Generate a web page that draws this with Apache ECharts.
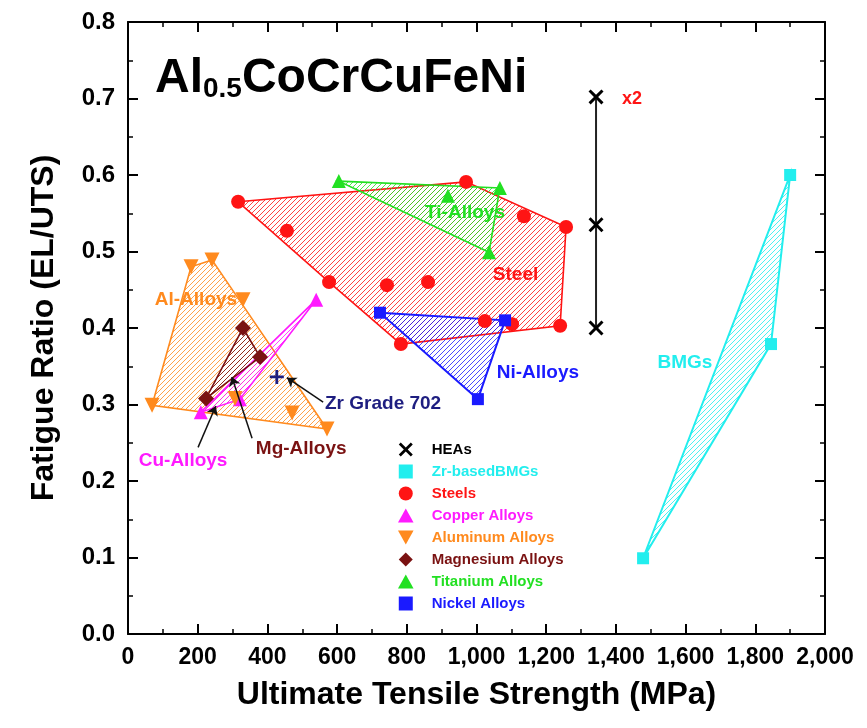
<!DOCTYPE html>
<html>
<head>
<meta charset="utf-8">
<script src="https://cdn.jsdelivr.net/npm/echarts@6/dist/echarts.min.js"></script>
<style>
  html, body { margin: 0; padding: 0; background: #ffffff; }
  #chart { width: 867px; height: 728px; }
</style>
</head>
<body>
<div id="chart"></div>
<script>
// Each point: [ultimate tensile strength (MPa), fatigue ratio (EL/UTS)]
const heaPoints = [[1343, 0.702], [1343, 0.535], [1343, 0.400]];
const bmgPoints = [[1478, 0.099], [1845, 0.379], [1900, 0.600]];
const steelPoints = [
  [316, 0.565], [970, 0.591], [1257, 0.532], [1240, 0.403], [783, 0.379], [577, 0.460],
  [456, 0.527], [743, 0.456], [861, 0.460], [1024, 0.409], [1102, 0.405], [1136, 0.546]
];
const copperPoints = [[209, 0.290], [540, 0.437], [321, 0.307]];
const aluminumPoints = [
  [69, 0.299], [181, 0.480], [241, 0.489], [571, 0.268], [330, 0.437], [307, 0.308], [471, 0.289]
];
const magnesiumPoints = [[330, 0.400], [379, 0.362], [224, 0.308]];
const titaniumPoints = [[605, 0.592], [1067, 0.583], [1036, 0.499], [918, 0.573]];
const nickelPoints = [[723, 0.420], [1082, 0.410], [1004, 0.307]];
const zr702Point = [[427, 0.336]];

// Outline vertices (indices into the arrays above) for each material envelope
const bmgHull = [0, 1, 2];
const steelHull = [0, 1, 2, 3, 4, 5];
const copperHull = [0, 1, 2];
const aluminumHull = [0, 1, 2, 3];
const magnesiumHull = [0, 1, 2];
const titaniumHull = [0, 1, 2];
const nickelHull = [0, 1, 2];

// Axis ticks
const xTicks = { min: 0, max: 2000, step: 200 };
const yTicks = { min: 0, max: 0.8, step: 0.1 };

// Region annotations
const regionNames = ['Al-Alloys', 'Ti-Alloys', 'Steel', 'Ni-Alloys', 'BMGs', 'Cu-Alloys', 'Mg-Alloys', 'Zr Grade 702', 'x2'];
const regionNameAt = [
  [195, 0.437], [967, 0.550], [1112, 0.469], [1176, 0.342], [1598, 0.354],
  [158, 0.227], [497, 0.242], [732, 0.301], [1446, 0.699]
];
// Pointer arrows: [from, to]
const pointerArrows = [
  [[560, 0.303], [456, 0.335]],
  [[356, 0.256], [298, 0.336]],
  [[201, 0.244], [252, 0.298]]
];

const FONT = '"Liberation Sans", Arial, Helvetica, sans-serif';
const C = {
  hea: '#000000', bmg: '#22eeee', steel: '#ff1414', copper: '#ff1aff',
  aluminum: '#ff8a1e', magnesium: '#7a1212', titanium: '#22e022', nickel: '#1a1aff', zr: '#1e1e80'
};
const regionColors = [C.aluminum, C.titanium, C.steel, C.nickel, C.bmg, C.copper, C.magnesium, C.zr, C.steel];

// Diagonal hatch tile
function hatchTile(color) {
  const s = 5;
  const cv = document.createElement('canvas');
  cv.width = s; cv.height = s;
  const g = cv.getContext('2d');
  g.strokeStyle = color;
  g.globalAlpha = 0.8;
  g.lineWidth = 1;
  g.beginPath();
  g.moveTo(0, s); g.lineTo(s, 0);
  g.moveTo(-1, 1); g.lineTo(1, -1);
  g.moveTo(s - 1, s + 1); g.lineTo(s + 1, s - 1);
  g.stroke();
  return cv;
}

function envelope(pts, hull, color, width) {
  const tile = hatchTile(color);
  return {
    type: 'custom',
    silent: true,
    z: 1,
    data: [0],
    renderItem: function (params, api) {
      const points = hull.map(function (i) { return api.coord(pts[i]); });
      return {
        type: 'polygon',
        shape: { points: points },
        style: { fill: { image: tile, repeat: 'repeat' }, stroke: color, lineWidth: width }
      };
    }
  };
}

// Marker shapes as paths so legend icons keep their proportions
const crossPath = 'path://M0,1.4L1.4,0L5,3.6L8.6,0L10,1.4L6.4,5L10,8.6L8.6,10L5,6.4L1.4,10L0,8.6L3.6,5Z';
const plusPath = 'path://M4,0L6,0L6,4L10,4L10,6L6,6L6,10L4,10L4,6L0,6L0,4L4,4Z';
const downTriPath = 'path://M0,0L10,0L5,9Z';
const upTriPath = 'path://M5,0L10,9L0,9Z';
const squarePath = 'path://M0,0L10,0L10,10L0,10Z';
const diamondPath = 'path://M5,0L10,5L5,10L0,5Z';
const circlePath = 'path://M5,0A5,5,0,1,1,5,10A5,5,0,1,1,5,0Z';

function markers(name, data, symbol, size, color) {
  return {
    type: 'scatter', name: name, data: data, symbol: symbol, symbolSize: size, z: 5,
    itemStyle: { color: color, opacity: 1 }
  };
}

const chart = echarts.init(document.getElementById('chart'));

const axisCommon = {
  type: 'value',
  axisLine: { show: true, onZero: false, lineStyle: { color: '#000', width: 2 } },
  axisTick: { show: true, inside: true, length: 10, lineStyle: { color: '#000', width: 2 } },
  minorTick: { show: true, splitNumber: 2, length: 5, lineStyle: { color: '#000', width: 1.5 } },
  splitLine: { show: false }
};

chart.setOption({
  animation: false,
  backgroundColor: '#ffffff',
  textStyle: { fontFamily: FONT },
  title: {
    text: '{m|Al}{s|0.5}{m|CoCrCuFeNi}',
    left: 150,
    top: 50,
    textStyle: {
      rich: {
        m: { fontSize: 48, fontWeight: 'bold', color: '#000', fontFamily: FONT, lineHeight: 48 },
        s: { fontSize: 28, fontWeight: 'bold', color: '#000', fontFamily: FONT, lineHeight: 28, verticalAlign: 'bottom' }
      }
    }
  },
  grid: { left: 128, right: 42, top: 22, bottom: 94, containLabel: false, outerBoundsMode: 'none' },
  legend: {
    orient: 'vertical',
    left: 393,
    top: 437,
    itemWidth: 42,
    itemHeight: 14,
    itemGap: 7,
    symbolKeepAspect: true,
    textStyle: { fontSize: 15, fontWeight: 'bold', fontFamily: FONT },
    selectedMode: false,
    data: [
      { name: 'HEAs', icon: crossPath, textStyle: { color: '#000' } },
      { name: 'Zr-basedBMGs', icon: squarePath, textStyle: { color: C.bmg } },
      { name: 'Steels', icon: circlePath, textStyle: { color: C.steel } },
      { name: 'Copper Alloys', icon: upTriPath, textStyle: { color: C.copper } },
      { name: 'Aluminum Alloys', icon: downTriPath, textStyle: { color: C.aluminum } },
      { name: 'Magnesium Alloys', icon: diamondPath, textStyle: { color: C.magnesium } },
      { name: 'Titanium Alloys', icon: upTriPath, textStyle: { color: C.titanium } },
      { name: 'Nickel Alloys', icon: squarePath, textStyle: { color: C.nickel } }
    ]
  },
  xAxis: [
    Object.assign({}, axisCommon, {
      min: xTicks.min, max: xTicks.max, interval: xTicks.step, position: 'bottom',
      axisLabel: {
        formatter: function (v) { return v.toLocaleString('en-US'); },
        fontSize: 23, fontWeight: 'bold', color: '#000', margin: 12, fontFamily: FONT
      },
      name: 'Ultimate Tensile Strength (MPa)',
      nameLocation: 'middle',
      nameGap: 45,
      nameTextStyle: { fontSize: 32, fontWeight: 'bold', color: '#000', fontFamily: FONT }
    }),
    Object.assign({}, axisCommon, {
      min: xTicks.min, max: xTicks.max, interval: xTicks.step, position: 'top',
      axisLabel: { show: false }
    })
  ],
  yAxis: [
    Object.assign({}, axisCommon, {
      min: yTicks.min, max: yTicks.max, interval: yTicks.step, position: 'left',
      axisLabel: {
        formatter: function (v) { return v.toFixed(1); },
        fontSize: 24, fontWeight: 'bold', color: '#000', margin: 13, fontFamily: FONT
      },
      name: 'Fatigue Ratio (EL/UTS)',
      nameLocation: 'middle',
      nameGap: 68,
      nameTextStyle: { fontSize: 32, fontWeight: 'bold', color: '#000', fontFamily: FONT }
    }),
    Object.assign({}, axisCommon, {
      min: yTicks.min, max: yTicks.max, interval: yTicks.step, position: 'right',
      axisLabel: { show: false }
    })
  ],
  series: [
    envelope(steelPoints, steelHull, C.steel, 1.6),
    envelope(titaniumPoints, titaniumHull, C.titanium, 1.6),
    envelope(nickelPoints, nickelHull, C.nickel, 2),
    envelope(bmgPoints, bmgHull, C.bmg, 2),
    envelope(aluminumPoints, aluminumHull, C.aluminum, 1.6),
    envelope(copperPoints, copperHull, C.copper, 1.6),
    envelope(magnesiumPoints, magnesiumHull, C.magnesium, 1.6),
    {
      type: 'line', data: heaPoints, showSymbol: false, silent: true, z: 2,
      lineStyle: { color: '#222', width: 2 }
    },
    {
      type: 'lines', coordinateSystem: 'cartesian2d', silent: true, z: 6,
      symbol: ['none', 'arrow'], symbolSize: 9,
      lineStyle: { color: '#111', width: 1.5, opacity: 1 },
      data: pointerArrows.map(function (a) { return { coords: a }; })
    },
    markers('HEAs', heaPoints, crossPath, 15, C.hea),
    markers('Zr-basedBMGs', bmgPoints, squarePath, 12, C.bmg),
    markers('Steels', steelPoints, 'circle', 14, C.steel),
    markers('Copper Alloys', copperPoints, upTriPath, 14, C.copper),
    markers('Aluminum Alloys', aluminumPoints, downTriPath, 15, C.aluminum),
    markers('Magnesium Alloys', magnesiumPoints, diamondPath, 16, C.magnesium),
    markers('Titanium Alloys', titaniumPoints, upTriPath, 14, C.titanium),
    markers('Nickel Alloys', nickelPoints, squarePath, 12, C.nickel),
    markers('Zr Grade 702', zr702Point, plusPath, 14, C.zr),
    {
      type: 'custom', silent: true, z: 7,
      data: regionNames.map(function (n, i) { return i; }),
      renderItem: function (params, api) {
        const i = params.dataIndex;
        const p = api.coord(regionNameAt[i]);
        return {
          type: 'text',
          x: p[0], y: p[1],
          style: {
            text: regionNames[i],
            fill: regionColors[i],
            font: 'bold ' + (i === 8 ? 18 : 19) + 'px ' + FONT,
            align: 'center',
            verticalAlign: 'middle'
          }
        };
      }
    }
  ]
});
</script>
</body>
</html>
